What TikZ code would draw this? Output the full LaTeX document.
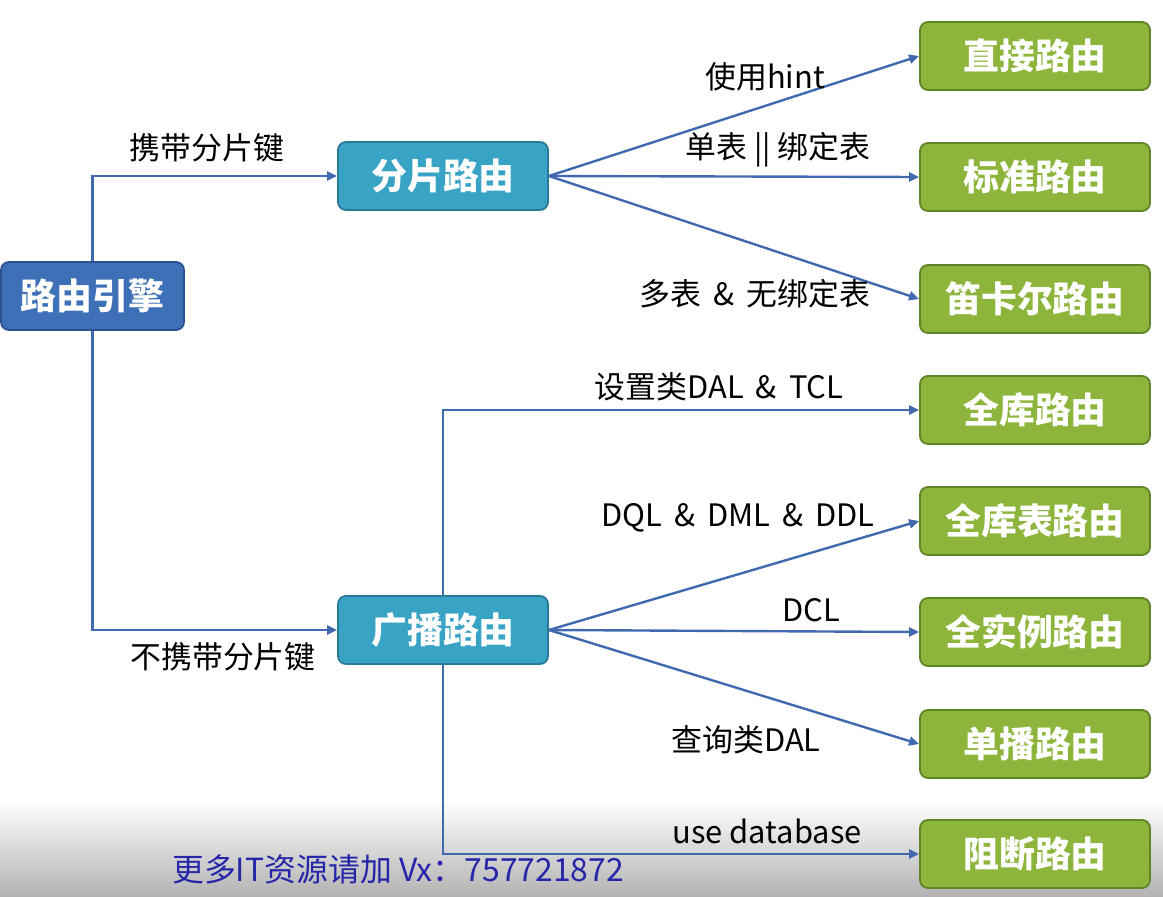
\documentclass[tikz,border=0pt]{standalone}
\usepackage{fontspec}
\setmainfont{Noto Sans CJK SC}
\usetikzlibrary{arrows.meta}
\definecolor{linkblue}{HTML}{4169B0}
\definecolor{rootfill}{HTML}{3E70B8}
\definecolor{rootedge}{HTML}{2D5190}
\definecolor{midfill}{HTML}{39A3C6}
\definecolor{midedge}{HTML}{2A7A95}
\definecolor{leaffill}{HTML}{8DB53C}
\definecolor{leafedge}{HTML}{5F8526}
\definecolor{markblue}{HTML}{2626A8}
\tikzset{
  box/.style={rounded corners=8bp, line width=1.8bp, minimum height=68bp,
    text=white, font=\fontsize{36}{40}\selectfont\bfseries, inner sep=0pt},
  rootbox/.style={box, fill=rootfill, draw=rootedge, minimum width=183bp},
  midbox/.style={box, fill=midfill, draw=midedge, minimum width=210bp},
  leafbox/.style={box, fill=leaffill, draw=leafedge, minimum width=230bp},
  conn/.style={draw=linkblue, line width=2.4bp, -{Triangle[length=10bp,width=9bp]}},
  lbl/.style={font=\fontsize{31}{34}\selectfont, text=black, inner sep=0pt}
}
\begin{document}
\begin{tikzpicture}[x=1bp,y=-1bp]
\useasboundingbox (0,0) rectangle (1163,897);
% soft grey band along the lower edge
\shade[top color=white, bottom color=black!30] (0,800) rectangle (1163,897);

% nodes
\node[rootbox] (engine) at (92.5,296) {路由引擎};
\node[midbox] (shard) at (443,176) {分片路由};
\node[midbox] (bcast) at (443,630) {广播路由};

\node[leafbox] (direct) at (1035,56) {直接路由};
\node[leafbox] (std) at (1035,177) {标准路由};
\node[leafbox] (cart) at (1035,299) {笛卡尔路由};
\node[leafbox] (alldb) at (1035,410) {全库路由};
\node[leafbox] (alltbl) at (1035,521) {全库表路由};
\node[leafbox] (allinst) at (1035,632) {全实例路由};
\node[leafbox] (uni) at (1035,744) {单播路由};
\node[leafbox] (block) at (1035,854) {阻断路由};

% connectors
\draw[conn] (engine.north) |- (shard.west);
\draw[conn] (engine.south) |- (bcast.west);

\draw[conn] (shard.east) -- (direct.west);
\draw[conn] (shard.east) -- (std.west);
\draw[conn] (shard.east) -- (cart.west);

\draw[conn] (bcast.north) |- (alldb.west);
\draw[conn] (bcast.east) -- (alltbl.west);
\draw[conn] (bcast.east) -- (allinst.west);
\draw[conn] (bcast.east) -- (uni.west);
\draw[conn] (bcast.south) |- (block.west);

% connector labels
\node[lbl] (l1) at (207,148) {携带分片键};
\node[lbl] (l2) at (223,657) {不携带分片键};
\node[lbl] (l3) at (765,77) {使用hint};
\node[lbl] (l4) at (778,150) {单表 || 绑定表};
\node[lbl] (l5) at (755,294) {多表 \,\&\, 无绑定表};
\node[lbl] (l6) at (719,387) {设置类DAL \,\&\, TCL};
\node[lbl] (l7) at (738,518) {DQL \,\&\, DML \,\&\, DDL};
\node[lbl] (l8) at (811,610) {DCL};
\node[lbl] (l9) at (746,740) {查询类DAL};
\node[lbl] (l10) at (767,831) {use database};

% footer note
\node[font=\fontsize{32}{35}\selectfont, text=markblue, inner sep=0pt] (note) at (398,869) {更多IT资源请加 Vx：757721872};
\end{tikzpicture}
\end{document}
